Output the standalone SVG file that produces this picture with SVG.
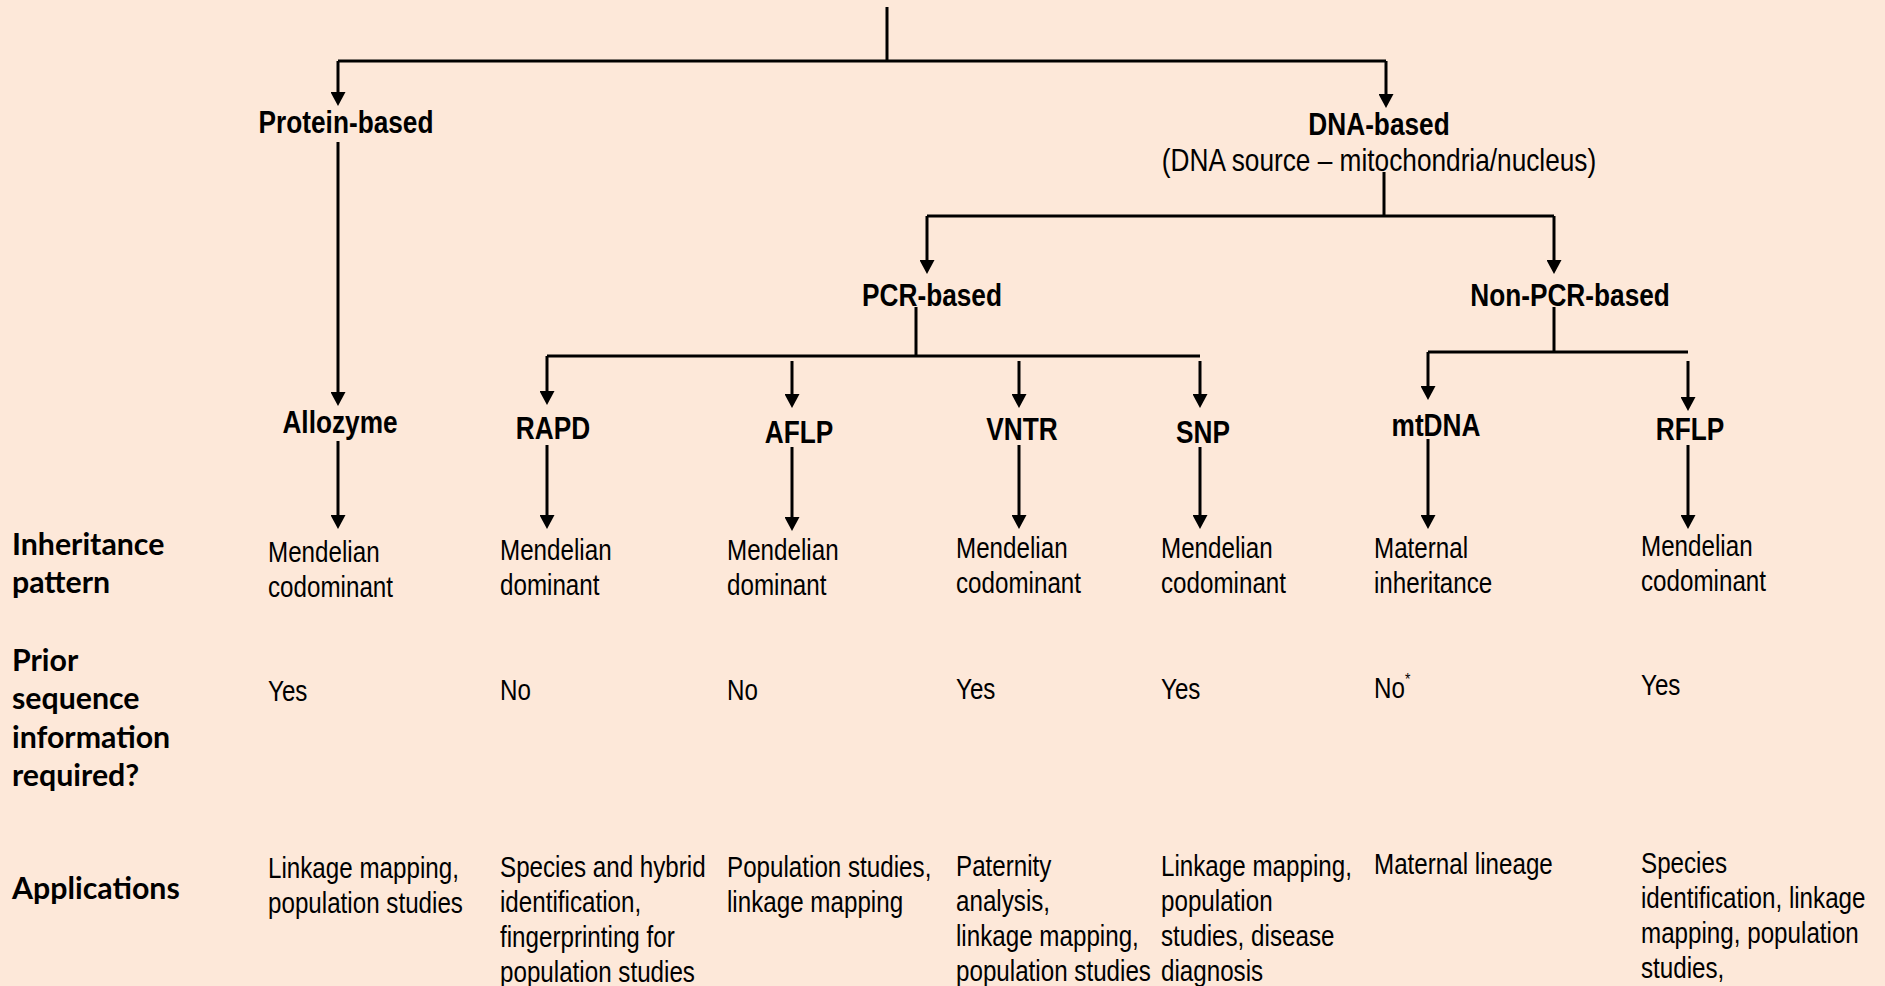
<svg xmlns="http://www.w3.org/2000/svg" width="1885" height="986" viewBox="0 0 1885 986">
<defs>
<marker id="ah" viewBox="0 0 14 15" markerWidth="14" markerHeight="15" refX="10" refY="7.5" orient="auto" markerUnits="userSpaceOnUse"><path d="M0,0 L14,7.5 L0,15 Z" fill="#000"/></marker>
<style>
.c{fill:none;stroke:#000;stroke-width:3}
.a{fill:none;stroke:#000;stroke-width:3;marker-end:url(#ah)}
.b{font-family:"Liberation Sans Narrow","Liberation Sans",sans-serif;font-weight:bold;font-size:32px;fill:#000;text-anchor:middle}
.t{font-family:"Liberation Sans Narrow","Liberation Sans",sans-serif;font-size:29.5px;fill:#000}
.s{font-family:"Liberation Sans Narrow","Liberation Sans",sans-serif;font-size:32px;fill:#000;text-anchor:middle}
.h{font-family:Lato,"Open Sans",sans-serif;font-weight:bold;font-size:30.3px;fill:#000}
</style>
</defs>
<rect width="1885" height="986" fill="#FDE8D9"/>
<g id="connectors">
<path class="c" d="M887 7V61M338 61H1386"/>
<path class="a" d="M338 61V102"/>
<path class="a" d="M1386 61V104"/>
<path class="a" d="M338 142V402"/>
<path class="c" d="M1384 172V216M927 216H1554"/>
<path class="a" d="M927 216V270"/>
<path class="a" d="M1554 216V270"/>
<path class="c" d="M916 307V356M547 356H1200"/>
<path class="a" d="M547 356V401"/>
<path class="a" d="M792 361V404"/>
<path class="a" d="M1019 361V404"/>
<path class="a" d="M1200 361V404"/>
<path class="c" d="M1554 307V352M1428 352H1688"/>
<path class="a" d="M1428 352V396"/>
<path class="a" d="M1688 361V407"/>
<path class="a" d="M338 441V525"/>
<path class="a" d="M547 445V525"/>
<path class="a" d="M792 447V527"/>
<path class="a" d="M1019 445V525"/>
<path class="a" d="M1200 447V525"/>
<path class="a" d="M1428 439V525"/>
<path class="a" d="M1688 445V525"/>
</g>
<g id="row-labels">
<text class="h" x="12" y="555">Inheritance</text>
<text class="h" x="12" y="593">pattern</text>
<text class="h" x="12" y="671">Prior</text>
<text class="h" x="12" y="709">sequence</text>
<text class="h" x="12" y="748">information</text>
<text class="h" x="12" y="786">required?</text>
<text class="h" x="12" y="899">Applications</text>
</g>
<g id="protein-based"><text class="b" transform="translate(346 133) scale(0.82 1)">Protein-based</text></g>
<g id="dna-based"><text class="b" transform="translate(1379 135) scale(0.82 1)">DNA-based</text><text class="s" transform="translate(1379 171) scale(0.82 1)">(DNA source – mitochondria/nucleus)</text></g>
<g id="pcr-based"><text class="b" transform="translate(932 306) scale(0.82 1)">PCR-based</text></g>
<g id="non-pcr-based"><text class="b" transform="translate(1570 306) scale(0.82 1)">Non-PCR-based</text></g>
<g id="allozyme">
<text class="b" transform="translate(340 433) scale(0.82 1)">Allozyme</text>
<text class="t" transform="translate(268 562) scale(0.82 1)">Mendelian</text><text class="t" transform="translate(268 597) scale(0.82 1)">codominant</text>
<text class="t" transform="translate(268 701) scale(0.82 1)">Yes</text>
<text class="t" transform="translate(268 878) scale(0.82 1)">Linkage mapping,</text><text class="t" transform="translate(268 913) scale(0.82 1)">population studies</text>
</g>
<g id="rapd">
<text class="b" transform="translate(553 439) scale(0.82 1)">RAPD</text>
<text class="t" transform="translate(500 560) scale(0.82 1)">Mendelian</text><text class="t" transform="translate(500 595) scale(0.82 1)">dominant</text>
<text class="t" transform="translate(500 700) scale(0.82 1)">No</text>
<text class="t" transform="translate(500 877) scale(0.82 1)">Species and hybrid</text><text class="t" transform="translate(500 912) scale(0.82 1)">identification,</text><text class="t" transform="translate(500 947) scale(0.82 1)">fingerprinting for</text><text class="t" transform="translate(500 982) scale(0.82 1)">population studies</text>
</g>
<g id="aflp">
<text class="b" transform="translate(799 443) scale(0.82 1)">AFLP</text>
<text class="t" transform="translate(727 560) scale(0.82 1)">Mendelian</text><text class="t" transform="translate(727 595) scale(0.82 1)">dominant</text>
<text class="t" transform="translate(727 700) scale(0.82 1)">No</text>
<text class="t" transform="translate(727 877) scale(0.82 1)">Population studies,</text><text class="t" transform="translate(727 912) scale(0.82 1)">linkage mapping</text>
</g>
<g id="vntr">
<text class="b" transform="translate(1022 440) scale(0.82 1)">VNTR</text>
<text class="t" transform="translate(956 558) scale(0.82 1)">Mendelian</text><text class="t" transform="translate(956 593) scale(0.82 1)">codominant</text>
<text class="t" transform="translate(956 699) scale(0.82 1)">Yes</text>
<text class="t" transform="translate(956 876) scale(0.82 1)">Paternity</text><text class="t" transform="translate(956 911) scale(0.82 1)">analysis,</text><text class="t" transform="translate(956 946) scale(0.82 1)">linkage mapping,</text><text class="t" transform="translate(956 981) scale(0.82 1)">population studies</text>
</g>
<g id="snp">
<text class="b" transform="translate(1203 443) scale(0.82 1)">SNP</text>
<text class="t" transform="translate(1161 558) scale(0.82 1)">Mendelian</text><text class="t" transform="translate(1161 593) scale(0.82 1)">codominant</text>
<text class="t" transform="translate(1161 699) scale(0.82 1)">Yes</text>
<text class="t" transform="translate(1161 876) scale(0.82 1)">Linkage mapping,</text><text class="t" transform="translate(1161 911) scale(0.82 1)">population</text><text class="t" transform="translate(1161 946) scale(0.82 1)">studies, disease</text><text class="t" transform="translate(1161 981) scale(0.82 1)">diagnosis</text>
</g>
<g id="mtdna">
<text class="b" transform="translate(1436 436) scale(0.82 1)">mtDNA</text>
<text class="t" transform="translate(1374 558) scale(0.82 1)">Maternal</text><text class="t" transform="translate(1374 593) scale(0.82 1)">inheritance</text>
<text class="t" transform="translate(1374 698) scale(0.82 1)">No<tspan font-size="17" dy="-13">*</tspan></text>
<text class="t" transform="translate(1374 874) scale(0.82 1)">Maternal lineage</text>
</g>
<g id="rflp">
<text class="b" transform="translate(1690 440) scale(0.82 1)">RFLP</text>
<text class="t" transform="translate(1641 556) scale(0.82 1)">Mendelian</text><text class="t" transform="translate(1641 591) scale(0.82 1)">codominant</text>
<text class="t" transform="translate(1641 695) scale(0.82 1)">Yes</text>
<text class="t" transform="translate(1641 873) scale(0.82 1)">Species</text><text class="t" transform="translate(1641 908) scale(0.82 1)">identification, linkage</text><text class="t" transform="translate(1641 943) scale(0.82 1)">mapping, population</text><text class="t" transform="translate(1641 978) scale(0.82 1)">studies,</text>
</g>
</svg>
